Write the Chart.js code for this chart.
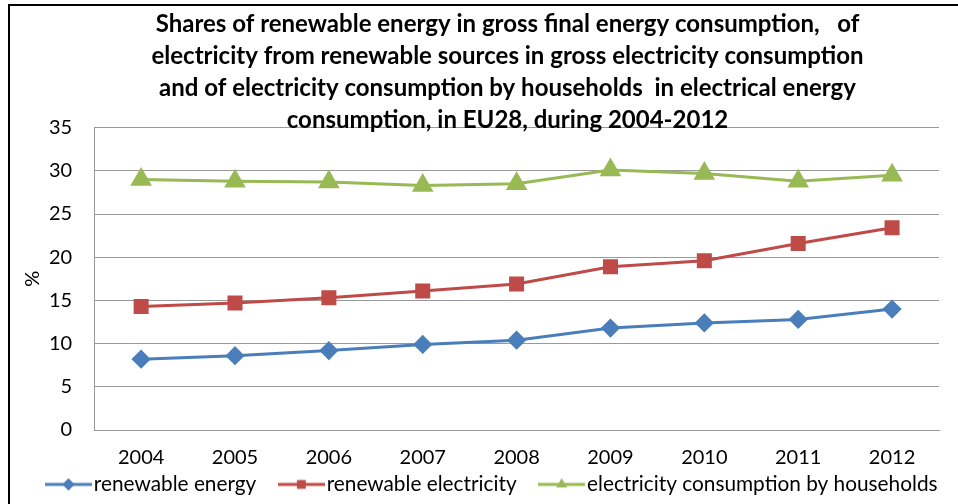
<!DOCTYPE html>
<html>
<head>
<meta charset="utf-8">
<script src="https://cdn.jsdelivr.net/npm/chart.js@4/dist/chart.umd.min.js"></script>
<style>
  html, body { margin: 0; padding: 0; background: #fff; overflow: hidden; }
  #marco { position: absolute; left: 8px; top: 4px; width: 960px; height: 520px;
           border-left: 2px solid #000; border-top: 2px solid #000; }
  #myChart { position: absolute; left: 0; top: 0; }
</style>
</head>
<body>
<div id="marco"></div>
<canvas id="myChart" width="958" height="504"></canvas>
<script>
// datos
const anios = ["2004", "2005", "2006", "2007", "2008", "2009", "2010", "2011", "2012"];
const energiaRenovable = [8.2, 8.6, 9.2, 9.9, 10.4, 11.8, 12.4, 12.8, 14.0];
const electricidadRenovable = [14.3, 14.7, 15.3, 16.1, 16.9, 18.9, 19.6, 21.6, 23.4];
const consumoHogares = [29.0, 28.8, 28.7, 28.3, 28.5, 30.1, 29.7, 28.8, 29.5];
const nombresSeries = ["renewable energy", "renewable electricity", "electricity consumption by households"];
const titulo = [
    "Shares of renewable energy in gross final energy consumption,   of",
    "electricity from renewable sources in gross electricity consumption",
    "and of electricity consumption by households  in electrical energy",
    "consumption, in EU28, during 2004-2012"
];

const fuente = "Lato";
const colores = ["#4a7ebb", "#be4b48", "#98b954"];
const marcas = ["rectRot", "rect", "triangle"];
const radios = [7.5, 8.5, 9.5];

// crea la imagen de la leyenda: linea con marca en el medio
function iconoLeyenda(color, estilo){
    const c = document.createElement("canvas");
    c.width = 47; c.height = 16;
    const ctx = c.getContext("2d");
    ctx.strokeStyle = color;
    ctx.lineWidth = 3;
    ctx.beginPath(); ctx.moveTo(0, 8); ctx.lineTo(47, 8); ctx.stroke();
    ctx.fillStyle = color;
    Chart.helpers.drawPoint(ctx, {pointStyle: estilo, radius: 6, borderWidth: 0}, 23.5, 8);
    ctx.fill();
    return c;
}

// ajusta titulo y leyenda como en el original
const ajustes = {
    id: "ajustes",
    beforeLayout(chart){
        const leyenda = chart.legend;
        if (leyenda && !leyenda._parcheado) {
            const fitOriginal = leyenda.fit;
            // la leyenda va en una sola linea y ocupa poco alto
            leyenda.fit = function(){
                const anchoMax = this.maxWidth;
                this.maxWidth = 2000;
                fitOriginal.call(this);
                this.maxWidth = anchoMax;
                this.width = anchoMax;
                this.height = 26;
            };
            leyenda._parcheado = true;
        }
    },
    afterLayout(chart){
        chart.titleBlock.left += 31;
        chart.titleBlock.right += 31;
        // se ensancha a ambos lados para que no corte la linea (el centro no cambia)
        chart.legend.left += 19 - 200;
        chart.legend.right += 19 + 200;
        chart.legend.top = 444;
    }
};

const chartDOM = document.getElementById("myChart");
const valores = [energiaRenovable, electricidadRenovable, consumoHogares];

const myChart = new Chart(chartDOM, {
    type: "line",
    data: {
        labels: anios,
        datasets: valores.map((serie, i) => ({
            label: nombresSeries[i],
            data: serie,
            borderColor: colores[i],
            backgroundColor: colores[i],
            borderWidth: 3,
            pointStyle: marcas[i],
            pointRadius: radios[i],
            pointHoverRadius: radios[i],
            tension: 0
        }))
    },
    plugins: [ajustes],
    options: {
        responsive: false,
        animation: false,
        layout: { padding: { left: 14, right: 19, top: 4, bottom: 0 } },
        plugins: {
            title: {
                display: true,
                text: titulo,
                color: "#000",
                font: { family: fuente, size: 24, weight: "bold", lineHeight: 1.34 },
                padding: { top: 4, bottom: -9 }
            },
            legend: {
                position: "bottom",
                labels: {
                    color: "#000",
                    font: { family: fuente, size: 20.8 },
                    usePointStyle: true,
                    pointStyleWidth: 30,
                    padding: 30,
                    generateLabels: (chart) => chart.data.datasets.map((ds, i) => ({
                        text: ds.label,
                        pointStyle: iconoLeyenda(colores[i], marcas[i]),
                        fillStyle: colores[i],
                        strokeStyle: colores[i],
                        lineWidth: 0,
                        datasetIndex: i
                    }))
                }
            },
            tooltip: { enabled: false }
        },
        scales: {
            x: {
                offset: true,
                grid: { display: false },
                border: { color: "#999" },
                ticks: { color: "#000", font: { family: fuente, size: 20 }, padding: 8 }
            },
            y: {
                min: 0,
                max: 35,
                grid: { color: "#999", drawTicks: false },
                border: { color: "#999" },
                ticks: { stepSize: 5, color: "#000", font: { family: fuente, size: 20 }, padding: 22 },
                title: { display: true, text: "%", color: "#000", font: { family: fuente, size: 20 }, padding: { top: 7, bottom: -18 } }
            }
        }
    }
});
</script>
</body>
</html>
